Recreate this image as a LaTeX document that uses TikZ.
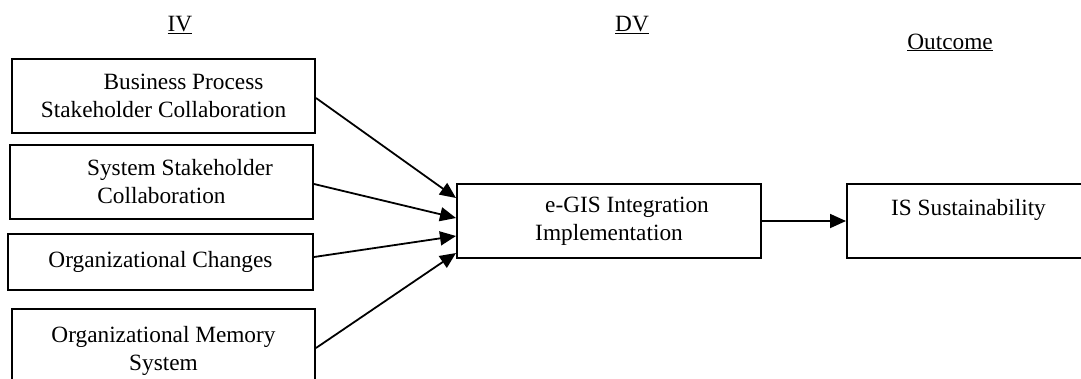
\documentclass[tikz,border=0pt]{standalone}
\usepackage{fontspec}
\setmainfont{Liberation Serif}
\usetikzlibrary{arrows.meta}
\tikzset{
  box/.style={draw, line width=2pt, inner sep=0pt, align=center,
    font={\fontsize{23.3}{28}\selectfont}},
  lbl/.style={anchor=base, inner sep=0pt, font={\fontsize{23.3}{28}\selectfont}},
  arr/.style={line width=1.8pt, -{Triangle[length=16pt,width=14pt]}}
}
\begin{document}
\begin{tikzpicture}[x=1pt,y=-1pt]
\useasboundingbox (0,0) rectangle (1081,378);
\clip (0,0) rectangle (1081,378);
\node[lbl] (iv) at (180,31) {\underline{IV}};
\node[lbl] (dv) at (632,31) {\underline{DV}};
\node[lbl] (oc) at (950,49) {\underline{Outcome}};

\node[box, minimum width=303pt, minimum height=74pt] (b1) at (163.5,96)
  {\hspace*{40pt}Business Process\\Stakeholder Collaboration};
\node[box, minimum width=303pt, minimum height=74pt] (b2) at (161.5,182)
  {\hspace*{37pt}System Stakeholder\\Collaboration};
\node[box, minimum width=305pt, minimum height=56pt] (b3) at (160.5,262)
  {Organizational Changes};
\node[box, minimum width=303pt, minimum height=84pt] (b4) at (163.5,351)
  {Organizational Memory\\System};
\node[box, minimum width=304pt, minimum height=74pt] (eg) at (609,221)
  {\hspace*{36pt}e-GIS Integration\\Implementation};
\node[box, minimum width=243pt, minimum height=74pt] (is) at (968.5,221)
  {IS Sustainability\\\mbox{}};

\draw[arr] ([yshift=-2pt]b1.east) -- ([yshift=23pt]eg.west);
\draw[arr] ([yshift=-2pt]b2.east) -- ([yshift=3pt]eg.west);
\draw[arr] ([yshift=5pt]b3.east) -- ([yshift=-15pt]eg.west);
\draw[arr] ([yshift=3pt]b4.east) -- ([yshift=-32pt]eg.west);
\draw[arr] (eg.east) -- (is.west);
\end{tikzpicture}
\end{document}
